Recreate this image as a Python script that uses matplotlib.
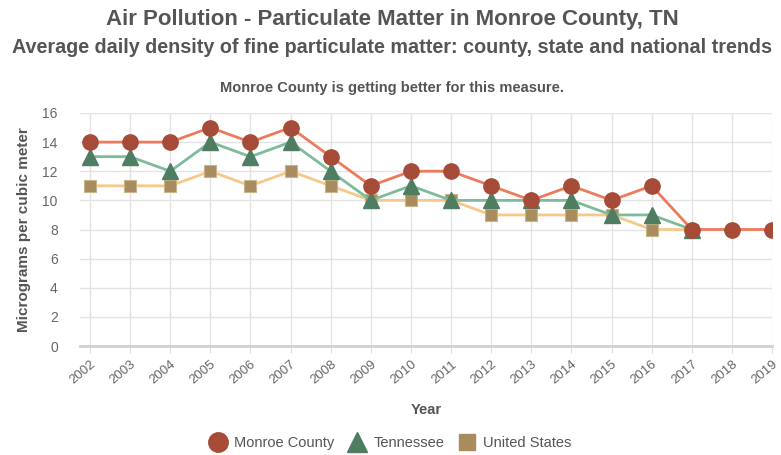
import matplotlib.pyplot as plt
from matplotlib.lines import Line2D

plt.rcParams['font.family'] = ['Liberation Sans', 'DejaVu Sans']

years = list(range(2002, 2020))
monroe = [14, 14, 14, 15, 14, 15, 13, 11, 12, 12, 11, 10, 11, 10, 11, 8, 8, 8]
tennessee = [13, 13, 12, 14, 13, 14, 12, 10, 11, 10, 10, 10, 10, 9, 9, 8]
usa = [11, 11, 11, 12, 11, 12, 11, 10, 10, 10, 9, 9, 9, 9, 8, 8]

fig = plt.figure(figsize=(7.81, 4.55), dpi=100)
ax = fig.add_axes([80/781, 1 - 346/455, 692/781, 233/455])

# lines first, then markers on top
ax.plot(years[:len(usa)], usa, color='#F6C98A', lw=2, marker='s', ms=9,
        mfc='#A88C5E', mec='#C8B48A', mew=0.8, zorder=3)
ax.plot(years[:len(tennessee)], tennessee, color='#7DBB9B', lw=2, marker='^', ms=11,
        mfc='#4E7D62', mec='#4E7D62', zorder=4)
ax.plot(years, monroe, color='#EE7A5C', lw=2, marker='o', ms=11,
        mfc='#A64B37', mec='#A64B37', zorder=5)

ax.set_xlim(2002 - 0.25, 2019)
ax.set_ylim(0, 16)
ax.set_xticks(years)
ax.set_xticklabels([str(y) for y in years], rotation=40, ha='right',
                   rotation_mode='anchor', fontsize=9.5, color='#666666')
ax.set_yticks(range(0, 17, 2))
ax.tick_params(axis='y', length=0, labelsize=10, labelcolor='#666666', pad=16)
ax.tick_params(axis='x', length=5, color='#dddddd', pad=4)
ax.grid(True, color='#e3e3e3', lw=1)
ax.set_axisbelow(True)
for s in ['top', 'right', 'left']:
    ax.spines[s].set_visible(False)
ax.spines['bottom'].set_color('#d0d0d0')
ax.spines['bottom'].set_linewidth(2)

ax.set_xlabel('Year', fontsize=10.5, fontweight='bold', color='#555555', labelpad=12)
ax.set_ylabel('Micrograms per cubic meter', fontsize=11, fontweight='bold',
              color='#555555', labelpad=8)

fig.text(0.502, 0.957, 'Air Pollution - Particulate Matter in Monroe County, TN',
         ha='center', va='center', fontsize=16, fontweight='bold', color='#555555')
fig.text(0.502, 0.895, 'Average daily density of fine particulate matter: county, state and national trends',
         ha='center', va='center', fontsize=14.2, fontweight='bold', color='#555555')
fig.text(0.502, 0.806, 'Monroe County is getting better for this measure.',
         ha='center', va='center', fontsize=10.5, fontweight='bold', color='#555555')

handles = [
    Line2D([], [], ls='none', marker='o', ms=14, mfc='#A64B37', mec='#A64B37'),
    Line2D([], [], ls='none', marker='^', ms=14, mfc='#4E7D62', mec='#4E7D62'),
    Line2D([], [], ls='none', marker='s', ms=12, mfc='#A88C5E', mec='#A88C5E'),
]
fig.legend(handles, ['Monroe County', 'Tennessee', 'United States'],
           loc='center', bbox_to_anchor=(0.496, 0.026), ncol=3, frameon=False,
           fontsize=10.5, handletextpad=0.1, columnspacing=0.6,
           labelcolor='#555555')

fig.savefig('out.png', dpi=100)
